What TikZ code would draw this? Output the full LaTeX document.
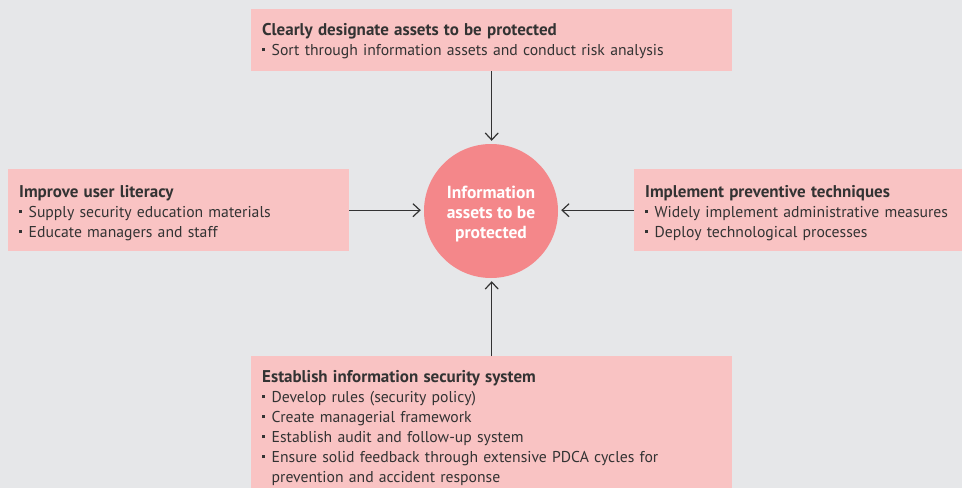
\documentclass[tikz,border=0pt]{standalone}
\usepackage{fontspec}
\setmainfont{PT Sans}
\usetikzlibrary{arrows.meta, positioning}
\definecolor{backgray}{HTML}{E6E7E9}
\definecolor{boxpink}{HTML}{F9C3C3}
\definecolor{circlered}{HTML}{F4878A}
\definecolor{textgray}{HTML}{333333}
\newcommand{\blt}{\rule[4pt]{3pt}{3pt}\hspace{6.5pt}}
\newcommand{\ttl}[1]{{\fontsize{17}{20}\selectfont\bfseries #1}}
\newcommand{\toppad}[1]{\rule{0pt}{#1}}
\newcommand{\botpad}{\rule[-5pt]{0pt}{5pt}}

\begin{document}
\begin{tikzpicture}[x=1pt, y=-1pt, >={Straight Barb[length=7pt,width=13pt]},
  box/.style={fill=boxpink, anchor=north west, inner xsep=11pt, inner ysep=0pt,
    align=left, text=textgray, font=\fontsize{15.7}{20}\selectfont},
  arrowline/.style={->, draw=textgray, line width=1.2pt, shorten >=3pt}]
  \fill [backgray] (0,0) rectangle (962,488);
  \useasboundingbox (0,0) rectangle (962,488);
  \node (assets) at (251,9) [box, text width=459pt, minimum height=62pt]
    {\toppad{15pt}\ttl{Clearly designate assets to be protected}\\
     \blt Sort through information assets and conduct risk analysis\botpad};
  \node (literacy) at (8,169) [box, text width=319pt, minimum height=82pt]
    {\toppad{19pt}\ttl{Improve user literacy}\\
     \blt Supply security education materials\\
     \blt Educate managers and staff\botpad};
  \node (preventive) at (634,169) [box, text width=320pt, minimum height=82pt]
    {\toppad{19pt}\ttl{Implement preventive techniques}\\
     \blt Widely implement administrative measures\\
     \blt Deploy technological processes\botpad};
  \node (system) at (251,356) [box, text width=459pt, minimum height=132pt]
    {\toppad{25pt}\ttl{Establish information security system}\\
     \blt Develop rules (security policy)\\
     \blt Create managerial framework\\
     \blt Establish audit and follow-up system\\
     \blt Ensure solid feedback through extensive PDCA cycles for\\
     \hspace*{9.5pt}prevention and accident response\botpad};
  \node (info) at (491,211) [circle, fill=circlered, minimum size=134pt, inner sep=0pt,
    align=center, text=white, font=\fontsize{17.5}{20}\selectfont\bfseries]
    {\toppad{19pt}Information\\assets to be\\protected\botpad};
  \draw [arrowline] (assets.south) -- (assets.south |- info.north);
  \draw [arrowline] (literacy.east) -- (literacy.east -| info.west);
  \draw [arrowline] (preventive.west) -- (preventive.west -| info.east);
  \draw [arrowline] (system.north) -- (system.north |- info.south);
\end{tikzpicture}
\end{document}
